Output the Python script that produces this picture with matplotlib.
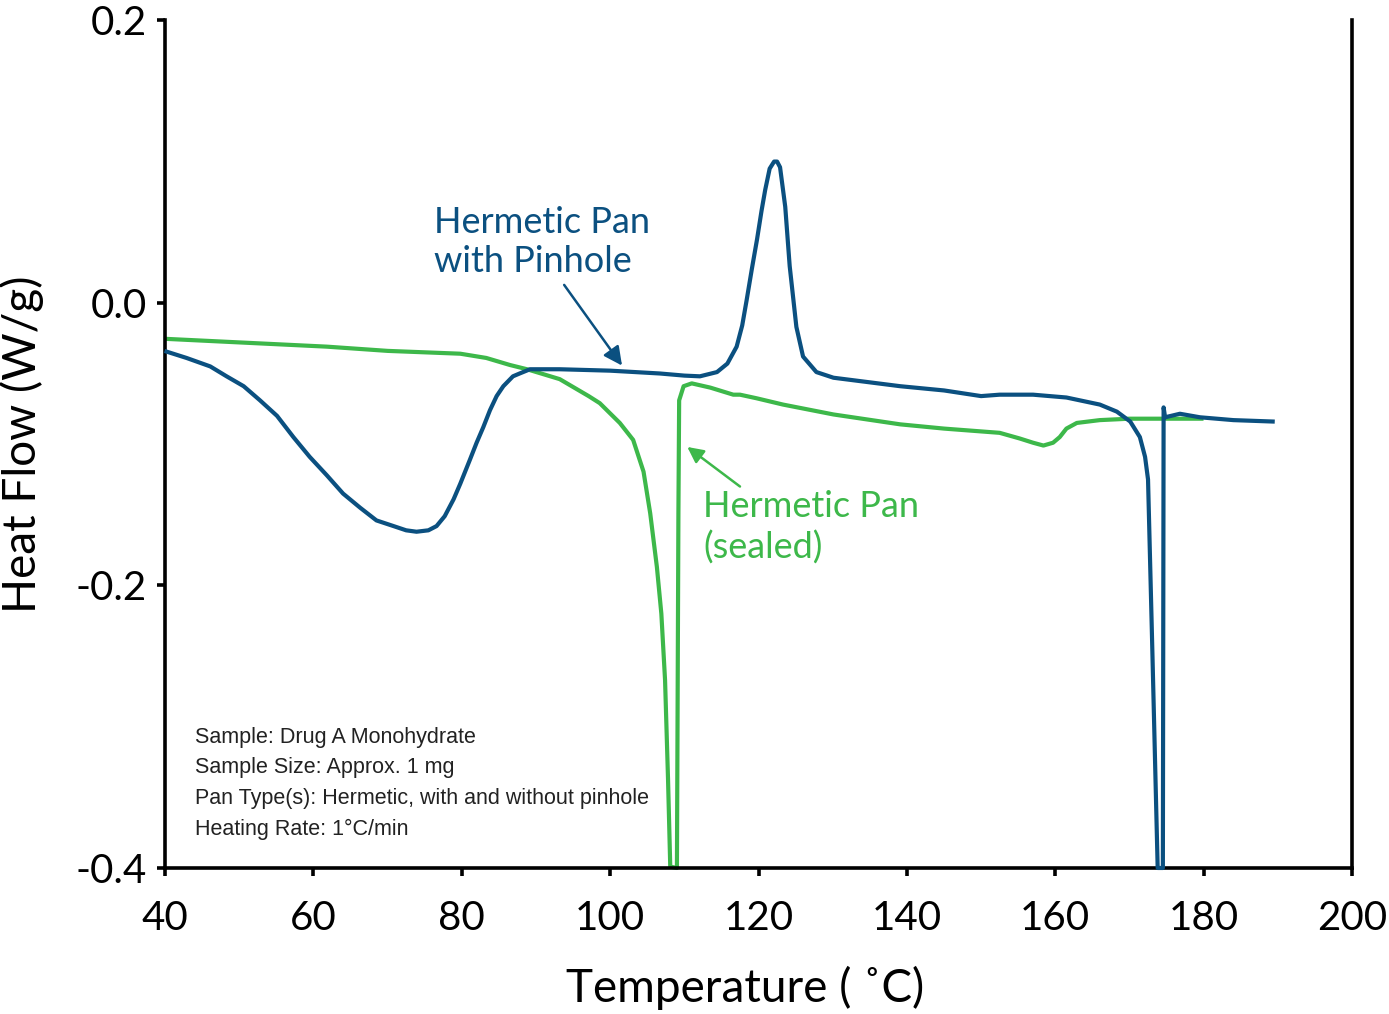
import numpy as np
import matplotlib
matplotlib.use('Agg')
import matplotlib.pyplot as plt

plt.rcParams['font.family'] = ['Lato', 'DejaVu Sans']
plt.rcParams['axes.unicode_minus'] = False

# Hermetic pan with pinhole (blue)
pin_temp = [40.2, 42.9, 46.1, 48.3, 50.6, 52.8, 55.1, 57.3, 59.5, 61.8, 64.0, 66.3, 68.5,
            70.8, 72.5, 73.9, 75.5, 76.6, 77.7, 78.9, 79.8, 81.1, 82.0, 82.9, 83.8, 84.7,
            85.6, 86.9, 87.8, 89.2, 93.2, 100.0, 106.7, 110.0, 112.1,
            114.4, 115.8, 117.05, 117.8, 118.4, 119.1, 119.8, 120.4, 120.9, 121.5, 122.1,
            122.5, 122.9, 123.6, 124.2, 125.1, 126.0, 127.8, 130.1, 134.6, 139.1, 145.0,
            150.0, 152.5, 157.0, 161.5, 166.0, 168.3, 170.1, 171.4, 172.1, 172.5, 173.1,
            173.8, 174.5, 174.6, 174.8, 175.6, 176.8, 179.5, 184.0, 189.3]
pin_flow = [-0.0345, -0.039, -0.045, -0.052, -0.059, -0.069, -0.080, -0.095, -0.109, -0.122,
            -0.135, -0.145, -0.154, -0.158, -0.161, -0.162, -0.161, -0.158, -0.151, -0.139,
            -0.128, -0.111, -0.099, -0.088, -0.076, -0.066, -0.059, -0.052, -0.050, -0.047,
            -0.047, -0.048, -0.050, -0.0515, -0.052, -0.049, -0.043, -0.031, -0.016, 0.002,
            0.024, 0.045, 0.065, 0.080, 0.095, 0.100, 0.100, 0.096, 0.068, 0.026, -0.017,
            -0.038, -0.049, -0.053, -0.056, -0.059, -0.062, -0.066, -0.065, -0.065, -0.067,
            -0.072, -0.077, -0.084, -0.095, -0.109, -0.125, -0.25, -0.40, -0.40, -0.074,
            -0.081, -0.080, -0.0785, -0.081, -0.083, -0.084]

# Hermetic pan, sealed (green)
seal_temp = [40.2, 50.0, 61.8, 70.0, 79.8, 83.3, 86.5, 88.8, 93.2, 97.1, 98.6, 101.3, 103.1,
             104.5, 105.4, 106.3, 106.9, 107.4, 107.8, 108.1, 109.0, 109.2, 109.3, 109.9,
             111.0, 113.5, 116.6, 117.5, 119.7, 123.3, 130.1, 139.1, 145.0, 150.0, 152.5,
             155.2, 157.0, 158.4, 159.7, 160.6, 161.5, 162.9, 166.0, 170.0, 175.0, 179.7]
seal_flow = [-0.0255, -0.028, -0.031, -0.034, -0.036, -0.039, -0.044, -0.047, -0.054, -0.066,
             -0.071, -0.085, -0.097, -0.1195, -0.149, -0.187, -0.220, -0.267, -0.337, -0.399,
             -0.400, -0.149, -0.069, -0.059, -0.057, -0.060, -0.065, -0.065, -0.0675, -0.072,
             -0.079, -0.086, -0.089, -0.091, -0.092, -0.096, -0.099, -0.101, -0.099, -0.095,
             -0.089, -0.085, -0.083, -0.082, -0.082, -0.082]

x_ticks = [40, 60, 80, 100, 120, 140, 160, 180, 200]
y_ticks = [-0.4, -0.2, 0.0, 0.2]
y_tick_labels = ['-0.4', '-0.2', '0.0', '0.2']

blue = '#0b5080'
green = '#3db84a'

fig = plt.figure(figsize=(13.89, 10.14), dpi=100)
ax = fig.add_axes([0.1188, 0.144, 0.8546, 0.836])

ax.plot(seal_temp, seal_flow, color=green, lw=3.0, zorder=2, clip_on=False,
        solid_joinstyle='round')
ax.plot(pin_temp, pin_flow, color=blue, lw=3.0, zorder=3, clip_on=False,
        solid_joinstyle='round')

ax.set_xlim(40, 200)
ax.set_ylim(-0.4, 0.2)
ax.set_xticks(x_ticks)
ax.set_yticks(y_ticks)
ax.set_yticklabels(y_tick_labels)

ax.spines['top'].set_visible(False)
for s in ['left', 'bottom', 'right']:
    ax.spines[s].set_linewidth(2.6)
ax.tick_params(axis='both', direction='out', length=6, width=2.6, labelsize=29)
ax.tick_params(axis='x', pad=17)
ax.tick_params(axis='y', pad=7)

ax.set_xlabel('Temperature ( ˚C)', fontsize=33, va='center')
ax.xaxis.set_label_coords(0.4886, -0.1415)
ax.set_ylabel('Heat Flow (W/g)', fontsize=33, va='center')
ax.yaxis.set_label_coords(-0.1205, 0.5)

# annotations
ax.annotate('', xy=(101.6, -0.0444), xytext=(93.8, 0.0127),
            arrowprops=dict(arrowstyle='-|>', color=blue, lw=1.8, mutation_scale=28,
                            shrinkA=0, shrinkB=0))
ax.text(76.3, 0.043, 'Hermetic Pan\nwith Pinhole', fontsize=26, color=blue,
        ha='left', va='center', linespacing=1.25)
ax.annotate('', xy=(110.4, -0.102), xytext=(117.5, -0.130),
            arrowprops=dict(arrowstyle='-|>', color=green, lw=1.8, mutation_scale=24,
                            shrinkA=0, shrinkB=0))
ax.text(112.5, -0.159, 'Hermetic Pan\n(sealed)', fontsize=26, color=green,
        ha='left', va='center', linespacing=1.25)

ax.text(44.1, -0.300, 'Sample: Drug A Monohydrate\nSample Size: Approx. 1 mg\n'
        'Pan Type(s): Hermetic, with and without pinhole\nHeating Rate: 1°C/min',
        fontsize=15.5, family=['Liberation Sans Narrow', 'Liberation Sans', 'DejaVu Sans'],
        color='#222222', ha='left', va='top', linespacing=1.6)

fig.savefig('out.png', dpi=100)
